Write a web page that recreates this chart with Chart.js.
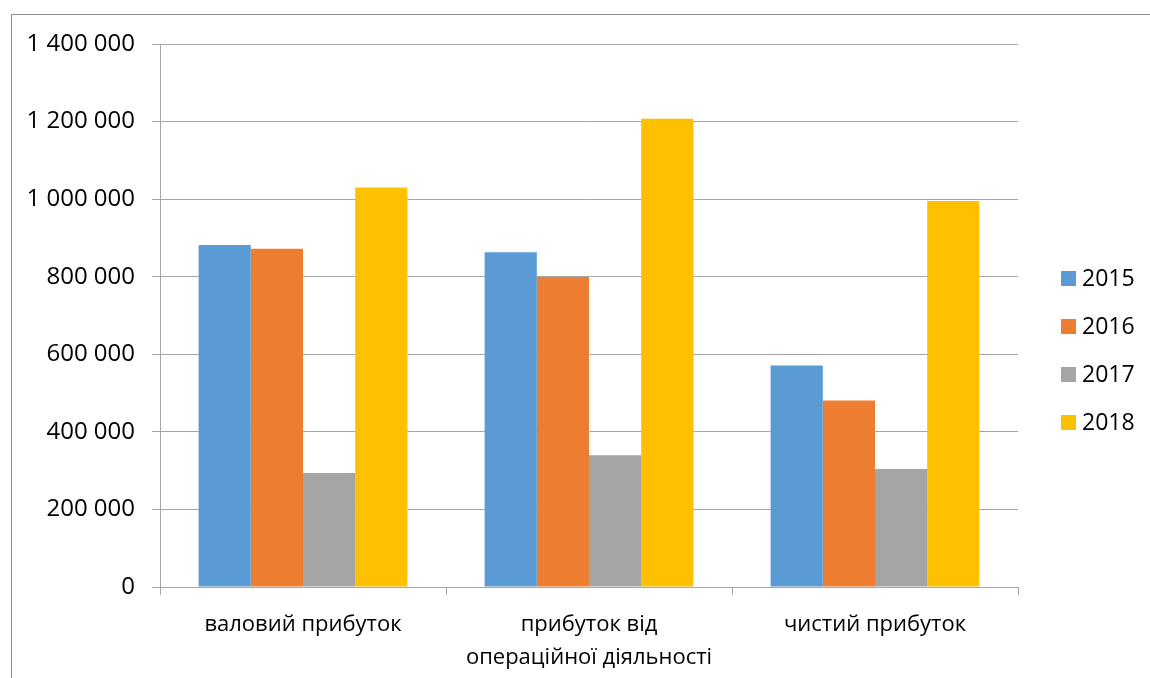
<!DOCTYPE html>
<html>
<head>
<meta charset="utf-8">
<script src="https://cdn.jsdelivr.net/npm/chart.js@4"></script>
<style>
    html, body { margin: 0; padding: 0; background: white; }
    #wrap { width: 1150px; height: 678px; }
</style>
</head>
<body>
<div id="wrap"><canvas id="myChart" width="1150" height="678"></canvas></div>
<script>
const categories = ['валовий прибуток', ['прибуток від', 'операційної діяльності'], 'чистий прибуток'];
const years = ['2015', '2016', '2017', '2018'];
const v2015 = [882000, 863000, 571000];
const v2016 = [872000, 799000, 481000];
const v2017 = [294000, 340000, 304000];
const v2018 = [1030000, 1207000, 995000];
const colours = ['#5B9BD5', '#ED7D31', '#A5A5A5', '#FFC000'];

const FONT = '"Open Sans", sans-serif';

// thousands separated by spaces: 1 400 000
function spaced(v) {
    return String(v).replace(/\B(?=(\d{3})+(?!\d))/g, ' ');
}

const ctx = document.getElementById('myChart').getContext('2d');
const myChart = new Chart(ctx, {
    type: 'bar',
    data: {
        labels: categories,
        datasets: [v2015, v2016, v2017, v2018].map((vals, i) => ({
            label: years[i],
            data: vals,
            backgroundColor: colours[i],
            borderWidth: 0
        }))
    },
    options: {
        responsive: false,
        animation: false,
        categoryPercentage: 0.73,
        barPercentage: 1,
        layout: {
            padding: { top: 44, right: 132, bottom: 0, left: 0 }
        },
        scales: {
            y: {
                min: 0,
                max: 1400000,
                ticks: {
                    stepSize: 200000,
                    padding: 17,
                    color: '#000',
                    font: { family: FONT, size: 24 },
                    callback: (v) => spaced(v)
                },
                grid: {
                    color: '#a6a6a6',
                    tickLength: 8
                },
                border: { color: '#a6a6a6' },
                afterFit: (scale) => { scale.width = 160; }
            },
            x: {
                ticks: {
                    padding: 13,
                    color: '#000',
                    font: { family: FONT, size: 22, lineHeight: 1.5 }
                },
                grid: {
                    drawOnChartArea: false,
                    color: '#a6a6a6',
                    tickLength: 8
                },
                border: { color: '#a6a6a6' },
                afterFit: (scale) => { scale.height = 91; }
            }
        },
        plugins: {
            legend: { display: false },
            tooltip: { enabled: false }
        }
    },
    plugins: [{
        id: 'background-colour',
        beforeDraw: (chart) => {
            const c = chart.ctx;
            c.save();
            c.fillStyle = 'white';
            c.fillRect(0, 0, chart.width, chart.height);
            // outer chart frame
            c.strokeStyle = '#8c8c8c';
            c.lineWidth = 1;
            c.strokeRect(11.5, 14.5, chart.width, chart.height);
            c.restore();
        }
    }, {
        id: 'side-legend',
        afterDraw: (chart) => {
            const c = chart.ctx;
            const x = chart.chartArea.right + 43;
            c.save();
            c.font = '23px ' + FONT;
            c.textBaseline = 'middle';
            chart.data.datasets.forEach((ds, i) => {
                const y = 278 + i * 48;
                c.fillStyle = ds.backgroundColor;
                c.fillRect(x, y - 7, 15, 15);
                c.fillStyle = '#000';
                c.fillText(ds.label, x + 21, y + 1);
            });
            c.restore();
        }
    }]
});
</script>
</body>
</html>
